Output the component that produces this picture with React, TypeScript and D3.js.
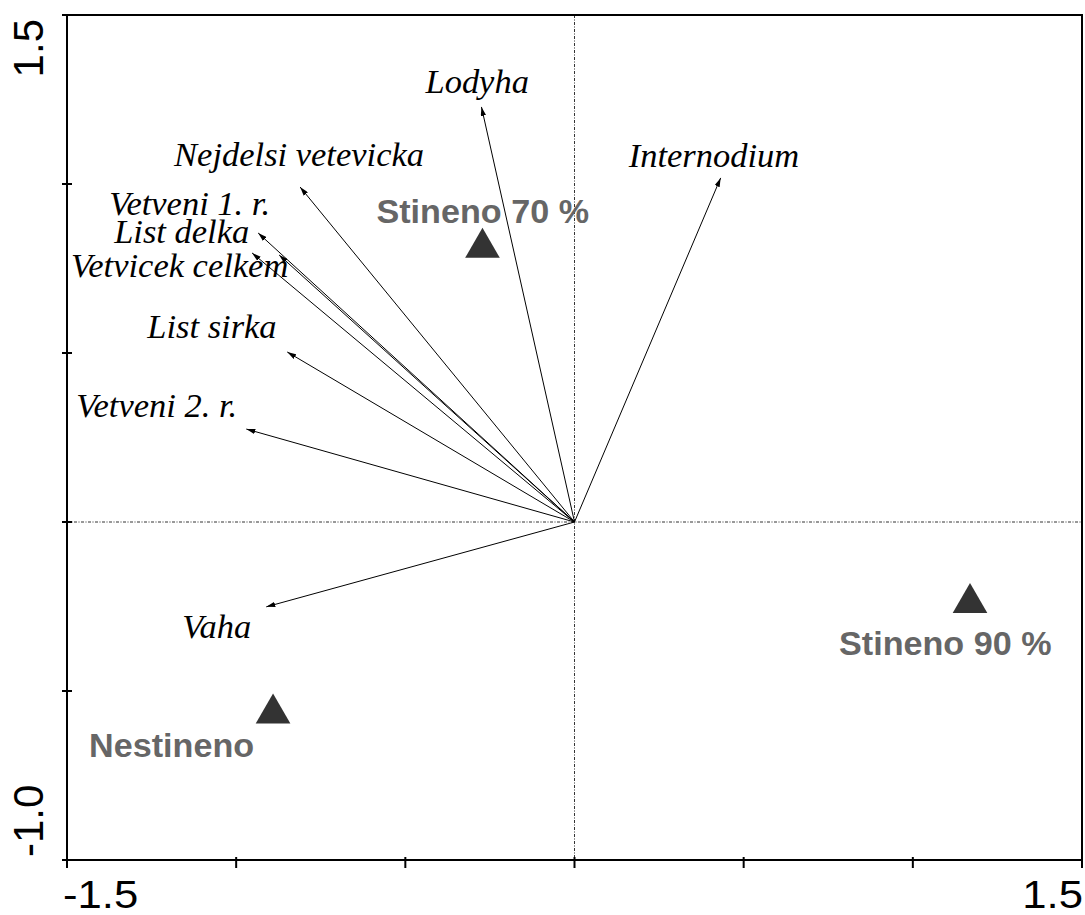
import React from "react";
import * as d3 from "d3";

// Species/trait vectors (biplot arrows)
const traitNames = [
  "Lodyha",
  "Internodium",
  "Nejdelsi vetevicka",
  "Vetveni 1. r.",
  "List delka",
  "Vetvicek celkem",
  "List sirka",
  "Vetveni 2. r.",
  "Vaha",
];
const traitX = [-0.275, 0.432, -0.811, -0.935, -0.873, -0.953, -0.849, -0.97, -0.911];
const traitY = [1.228, 1.018, 0.991, 0.855, 0.79, 0.796, 0.503, 0.275, -0.251];

// Treatment centroids
const groupNames = ["Stineno 70 %", "Stineno 90 %", "Nestineno"];
const groupX = [-0.272, 1.169, -0.891];
const groupY = [0.82, -0.231, -0.558];

// Axis tick values and the end labels
const tickValuesX = [-1.5, -1.0, -0.5, 0, 0.5, 1.0, 1.5];
const tickValuesY = [-1.0, -0.5, 0, 0.5, 1.0, 1.5];
const xEndLabels = ["-1.5", "1.5"];
const yEndLabels = ["-1.0", "1.5"];

// Label placement relative to the arrow tip / symbol centre (pixels)
const traitLabelOffset: [number, number][] = [
  [-56, -14],
  [-92, -11],
  [-126, -21],
  [-149, -18],
  [-165, -12],
  [-181, 24],
  [-140, -14],
  [-170, -12],
  [-84, 31],
];
const groupLabelOffset: [number, number][] = [
  [-106, -22],
  [-131, 55],
  [-184, 46],
];

const W = 1085;
const H = 915;
const left = 67;
const right = 1082;
const top = 15;
const bottom = 860;

export default function App() {
  const x = d3.scaleLinear().domain([-1.5, 1.5]).range([left, right]);
  const y = d3.scaleLinear().domain([-1.0, 1.5]).range([bottom, top]);
  const x0 = x(0);
  const y0 = y(0);

  const tri = d3.symbol().type(d3.symbolTriangle).size(520)();

  return (
    <svg
      width={W}
      height={H}
      style={{ position: "absolute", left: 0, top: 0, background: "#fff" }}
    >
      <defs>
        <marker
          id="head"
          viewBox="0 0 10 6"
          refX="10"
          refY="3"
          markerWidth="9"
          markerHeight="5.5"
          markerUnits="userSpaceOnUse"
          orient="auto"
        >
          <path d="M0,0 L10,3 L0,6 Z" fill="#000" />
        </marker>
      </defs>

      {/* zero reference lines */}
      <line x1={x0} x2={x0} y1={top} y2={bottom} stroke="#333" strokeWidth={1} strokeDasharray="3 1.5 1 1.5" />
      <line x1={left} x2={right} y1={y0} y2={y0} stroke="#333" strokeWidth={1} strokeDasharray="3 1.5 1 1.5" />

      {/* frame */}
      <rect x={left} y={top} width={right - left} height={bottom - top} fill="none" stroke="#000" strokeWidth={2} />

      {/* ticks */}
      {tickValuesX.map((v) => (
        <line key={"tx" + v} x1={x(v)} x2={x(v)} y1={bottom - 3} y2={bottom + 8} stroke="#000" strokeWidth={2} />
      ))}
      {tickValuesY.map((v) => (
        <line key={"ty" + v} x1={left - 5} x2={left + 5} y1={y(v)} y2={y(v)} stroke="#000" strokeWidth={2} />
      ))}

      {/* axis end labels */}
      <g fontFamily="Liberation Sans, Arial, sans-serif" fill="#000">
        <text fontSize={39} transform={`translate(${x(-1.5) - 4}, 908) scale(1.12, 1)`} textAnchor="start">
          {xEndLabels[0]}
        </text>
        <text fontSize={39} transform={`translate(${x(1.5) + 1}, 908) scale(1.12, 1)`} textAnchor="end">
          {xEndLabels[1]}
        </text>
        <text fontSize={42} transform={`translate(43, ${y(-1.0) - 3}) rotate(-90)`} textAnchor="start">
          {yEndLabels[0]}
        </text>
        <text fontSize={42} transform={`translate(43, ${y(1.5) + 4}) rotate(-90)`} textAnchor="end">
          {yEndLabels[1]}
        </text>
      </g>

      {/* arrows */}
      {traitNames.map((n, i) => (
        <line
          key={"a" + n}
          x1={x0}
          y1={y0}
          x2={x(traitX[i])}
          y2={y(traitY[i])}
          stroke="#000"
          strokeWidth={1}
          markerEnd="url(#head)"
        />
      ))}
      <g fontFamily="Liberation Serif, Times New Roman, serif" fontStyle="italic" fontSize={33} fill="#000">
        {traitNames.map((n, i) => (
          <text
            key={"l" + n}
            transform={`translate(${x(traitX[i]) + traitLabelOffset[i][0]}, ${
              y(traitY[i]) + traitLabelOffset[i][1]
            }) scale(1.045, 1)`}
          >
            {n}
          </text>
        ))}
      </g>

      {/* treatment centroids */}
      {groupNames.map((n, i) => (
        <path
          key={"g" + n}
          d={tri || ""}
          transform={`translate(${x(groupX[i])}, ${y(groupY[i]) + 3})`}
          fill="#333"
        />
      ))}
      <g fontFamily="Liberation Sans, Arial, sans-serif" fontWeight="bold" fontSize={33} fill="#666">
        {groupNames.map((n, i) => (
          <text
            key={"gl" + n}
            transform={`translate(${x(groupX[i]) + groupLabelOffset[i][0]}, ${
              y(groupY[i]) + groupLabelOffset[i][1]
            }) scale(1.035, 1)`}
          >
            {n}
          </text>
        ))}
      </g>
    </svg>
  );
}
